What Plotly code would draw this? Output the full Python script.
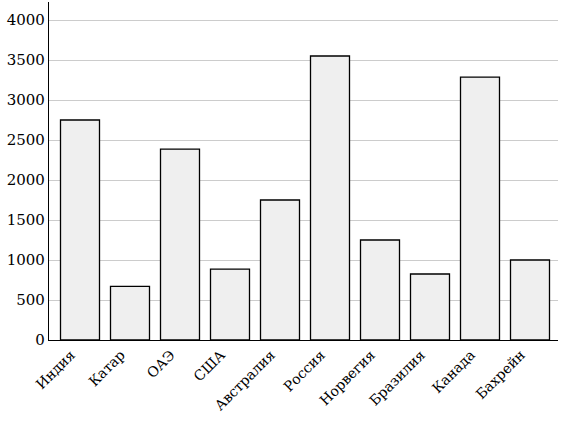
import plotly.graph_objects as go

countries = ["Индия", "Катар", "ОАЭ", "США", "Австралия", "Россия",
             "Норвегия", "Бразилия", "Канада", "Бахрейн"]
values = [2750, 670, 2385, 885, 1750, 3550, 1250, 825, 3285, 1000]
y_ticks = [0, 500, 1000, 1500, 2000, 2500, 3000, 3500, 4000]

fig = go.Figure()
fig.add_trace(go.Bar(
    x=list(range(len(countries))), y=values, width=0.78,
    marker=dict(color="#efefef", line=dict(color="black", width=1.3)),
))

fig.update_layout(
    width=561, height=422,
    margin=dict(l=49, r=3, t=2, b=82),
    plot_bgcolor="white", paper_bgcolor="white",
    font=dict(family="DejaVu Serif", size=15, color="black"),
    showlegend=False,
)
fig.update_xaxes(
    range=[-0.62, 9.56], tickmode="array",
    tickvals=list(range(len(countries))), ticktext=countries,
    tickangle=-45, showline=True, linecolor="black", linewidth=1.3,
    showgrid=False, ticks="", zeroline=False, automargin=False,
    tickfont=dict(size=14), ticklabelshift=-9,
)
fig.update_yaxes(
    range=[0, 4225], tickmode="array", tickvals=y_ticks,
    showline=True, linecolor="black", linewidth=1.3,
    showgrid=True, gridcolor="#cccccc", gridwidth=1,
    ticks="", zeroline=False, automargin=False,
)

fig.write_html("out.html", config={"displayModeBar": False},
               post_script="document.body.style.margin='0';")
